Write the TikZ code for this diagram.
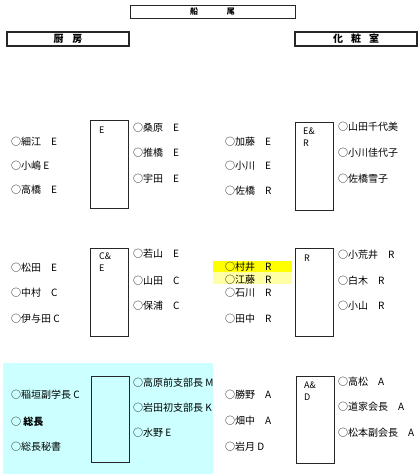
\documentclass[tikz,border=0pt]{standalone}
\usepackage{fontspec}
\setmainfont{Noto Sans CJK JP}
\usetikzlibrary{positioning}
\definecolor{cabin}{RGB}{204,255,255}
\definecolor{markA}{RGB}{255,255,0}
\definecolor{markB}{RGB}{255,255,165}
\tikzset{
  tbl/.style={draw=black!85, line width=1pt, minimum width=38pt, minimum height=88pt, anchor=north west, inner sep=0pt},
  tlab/.style={anchor=north west, align=left, inner sep=0pt, font=\fontsize{9}{12}\selectfont},
  nm/.style={anchor=west, inner sep=0pt, font=\fontsize{10}{12}\selectfont},
  hdr/.style={draw=black!85, line width=2pt, minimum width=122pt, minimum height=14pt, inner sep=0pt, font=\fontsize{10}{12}\selectfont\bfseries}
}
\begin{document}
\begin{tikzpicture}[x=1pt, y=-1pt]
		\useasboundingbox (0,0) rectangle (419,474);

		\fill[cabin] (3,363) rectangle (213,474);
		\fill[markA] (213,261) rectangle (292,272);
		\fill[markB] (213,272) rectangle (292,284);

		\node[hdr, line width=0.8pt, minimum width=165pt, minimum height=13pt, font=\fontsize{8}{10}\selectfont\bfseries] (stern) at (212.5,11.5) {船\hspace{3.6em}尾};
		\node[hdr] (kitchen) at (68,39) {厨\hspace{0.9em}房};
		\node[hdr] (toilet) at (356,39) {化\hspace{0.8em}粧\hspace{0.8em}室};

		\node[tbl] (t1) at (90,120) {};
		\node[tlab] at ([shift={(9,7)}]t1.north west) {E};
		\node[nm] (a1) at (11,142) {○細江　E};
		\node[nm] (a2) at (11,166) {○小嶋 E};
		\node[nm] (a3) at (11,190) {○高橋　E};
		\node[nm] (b1) at (133,128) {○桑原　E};
		\node[nm] (b2) at (133,153) {○推橋　E};
		\node[nm] (b3) at (133,179) {○宇田　E};

		\node[tbl] (t2) at (295,122) {};
		\node[tlab] at ([shift={(8,6)}]t2.north west) {E\&\\R};
		\node[nm] (c1) at (225,142) {○加藤　E};
		\node[nm] (c2) at (225,166) {○小川　E};
		\node[nm] (c3) at (225,191) {○佐橋　R};
		\node[nm] (d1) at (338,127) {○山田千代美};
		\node[nm] (d2) at (338,153) {○小川佳代子};
		\node[nm] (d3) at (338,179) {○佐橋雪子};

		\node[tbl] (t3) at (90,248) {};
		\node[tlab] at ([shift={(9,5)}]t3.north west) {C\&\\E};
		\node[nm] (e1) at (11,268) {○松田　E};
		\node[nm] (e2) at (11,293) {○中村　C};
		\node[nm] (e3) at (11,319) {○伊与田 C};
		\node[nm] (f1) at (133,254) {○若山　E};
		\node[nm] (f2) at (133,281) {○山田　C};
		\node[nm] (f3) at (133,306) {○保浦　C};

		\node[tbl] (t4) at (295,248) {};
		\node[tlab] at ([shift={(9,7)}]t4.north west) {R};
		\node[nm] (g1) at (225,267) {○村井　R};
		\node[nm] (g2) at (225,280) {○江藤　R};
		\node[nm] (g3) at (225,293) {○石川　R};
		\node[nm] (g4) at (225,319) {○田中　R};
		\node[nm] (h1) at (338,255) {○小荒井　R};
		\node[nm] (h2) at (338,281) {○白木　R};
		\node[nm] (h3) at (338,306) {○小山　R};

		\node[tbl, minimum height=86pt] (t5) at (91,376) {};
		\node[nm] (i1) at (11,395) {○稲垣副学長 C};
		\node[nm] (i2) at (11,422) {○ \textbf{総長}};
		\node[nm] (i3) at (11,447) {○総長秘書};
		\node[nm] (j1) at (133,383) {○高原前支部長 M};
		\node[nm] (j2) at (133,408) {○岩田初支部長 K};
		\node[nm] (j3) at (133,433) {○水野 E};

		\node[tbl, minimum height=87pt] (t6) at (296,376) {};
		\node[tlab] at ([shift={(8,6)}]t6.north west) {A\&\\D};
		\node[nm] (k1) at (225,395) {○勝野　A};
		\node[nm] (k2) at (225,421) {○畑中　A};
		\node[nm] (k3) at (225,447) {○岩月 D};
		\node[nm] (l1) at (338,382) {○高松　A};
		\node[nm] (l2) at (338,407) {○道家会長　A};
		\node[nm] (l3) at (338,433) {○松本副会長　A};
    \end{tikzpicture}
\end{document}
